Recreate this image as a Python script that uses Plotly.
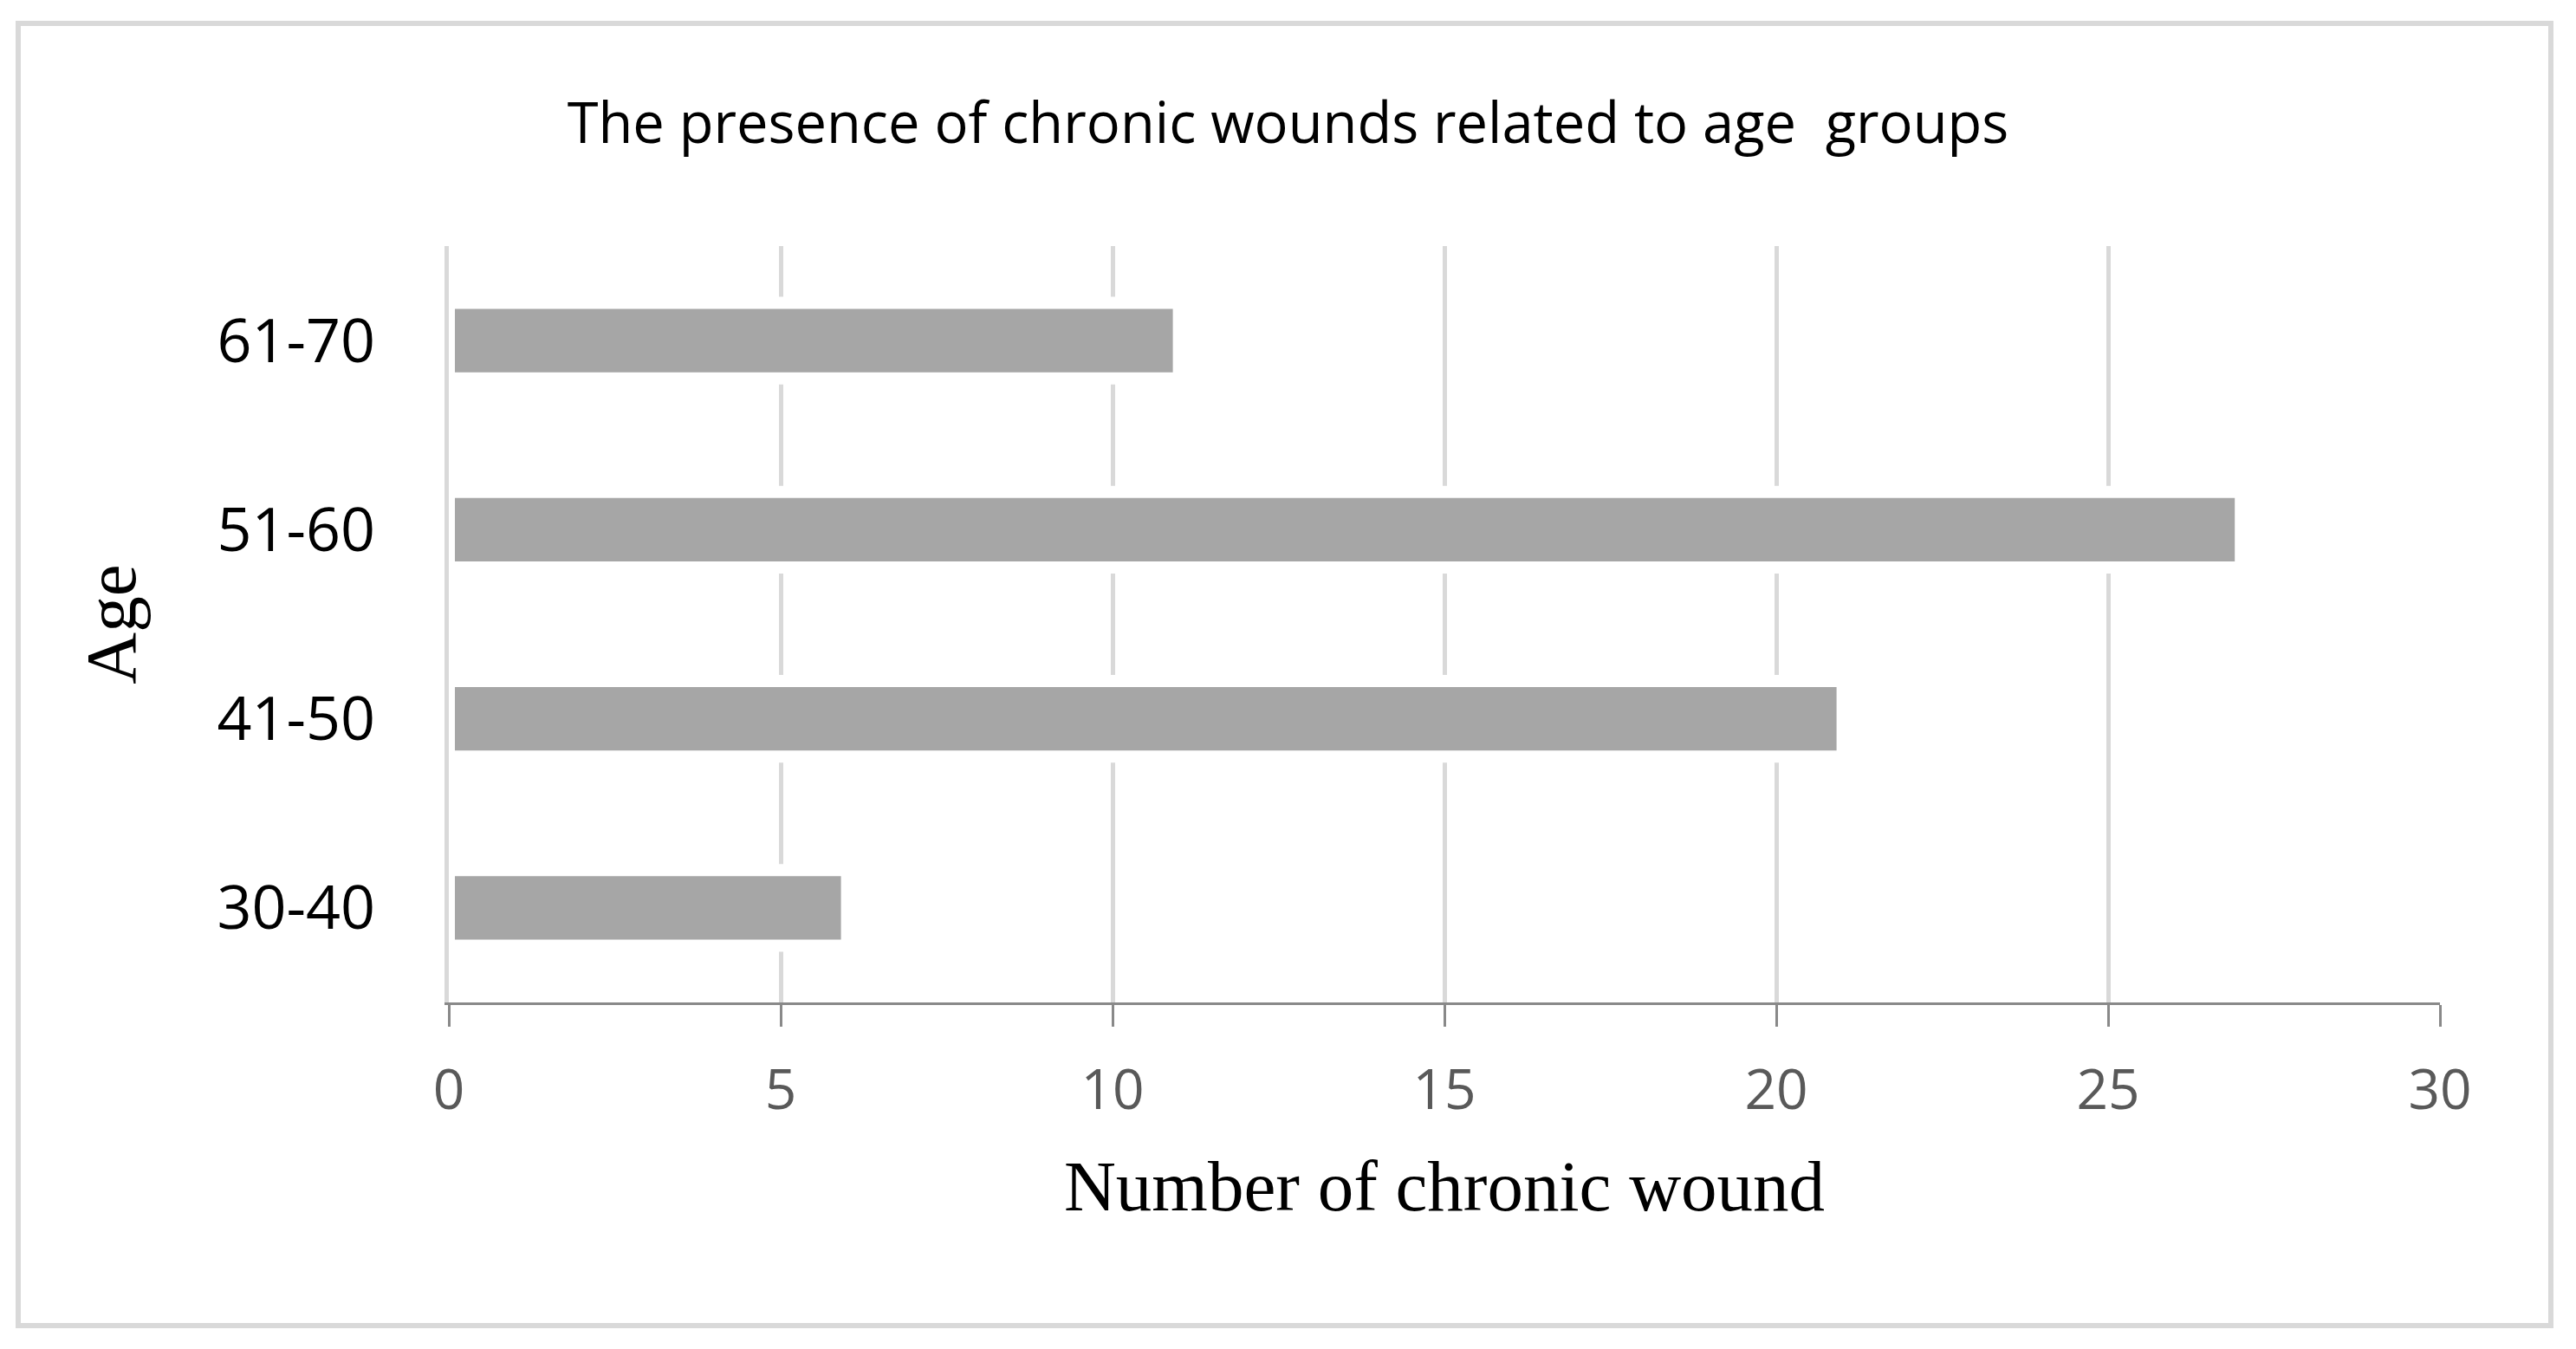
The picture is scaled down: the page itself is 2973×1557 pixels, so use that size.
import plotly.graph_objects as go

# Data
age_groups = ["30-40", "41-50", "51-60", "61-70"]
wound_counts = [6, 21, 27, 11]
x_tick_values = [0, 5, 10, 15, 20, 25, 30]

title_text = "The presence of chronic wounds related to age  groups"
x_title = "Number of chronic wound"
y_title = "Age"

W, H = 2973, 1557
L, R, T, B = 518, 157, 284, 400
pw, ph = W - L - R, H - T - B

sans = "Open Sans, sans-serif"
serif = "Liberation Serif, DejaVu Serif, serif"

fig = go.Figure()
fig.add_trace(go.Bar(
    y=age_groups,
    x=wound_counts,
    orientation="h",
    marker=dict(color="#a6a6a6", line=dict(color="#ffffff", width=14)),
    hoverinfo="x+y",
))

def px2paper_x(px):
    return (px - L) / pw

def px2paper_y(py):
    return (H - B - py) / ph

fig.update_layout(
    width=W, height=H,
    margin=dict(l=L, r=R, t=T, b=B),
    paper_bgcolor="white",
    plot_bgcolor="white",
    bargap=0.6,
    showlegend=False,
    title=dict(
        text=title_text,
        x=0.5, xref="container", xanchor="center",
        y=1 - 142 / H, yref="container", yanchor="middle",
        font=dict(family=sans, size=65, color="#000000"),
    ),
    xaxis=dict(
        range=[0, 30],
        tickvals=x_tick_values,
        showgrid=True, gridcolor="#d9d9d9", gridwidth=5,
        zeroline=False,
        showline=True, linecolor="#898989", linewidth=3,
        ticks="outside", ticklen=25, tickwidth=3, tickcolor="#898989",
        ticklabelstandoff=18,
        tickfont=dict(family=sans, size=64, color="#595959"),
        title=dict(text=x_title, font=dict(family=serif, size=83, color="#000000"), standoff=42),
        fixedrange=True,
    ),
    yaxis=dict(
        type="category",
        categoryorder="array", categoryarray=age_groups,
        showgrid=False, zeroline=False,
        showline=True, linecolor="#d9d9d9", linewidth=5,
        ticks="", ticklabelstandoff=66,
        tickfont=dict(family=sans, size=70, color="#000000"),
        title=dict(text=y_title, font=dict(family=serif, size=83, color="#000000"), standoff=68),
        fixedrange=True,
    ),
    shapes=[dict(
        type="rect", xref="paper", yref="paper",
        x0=px2paper_x(21), x1=px2paper_x(2944),
        y0=px2paper_y(1530), y1=px2paper_y(27),
        line=dict(color="#d9d9d9", width=6),
        fillcolor="rgba(0,0,0,0)", layer="below",
    )],
)

fig.write_html("out.html")
